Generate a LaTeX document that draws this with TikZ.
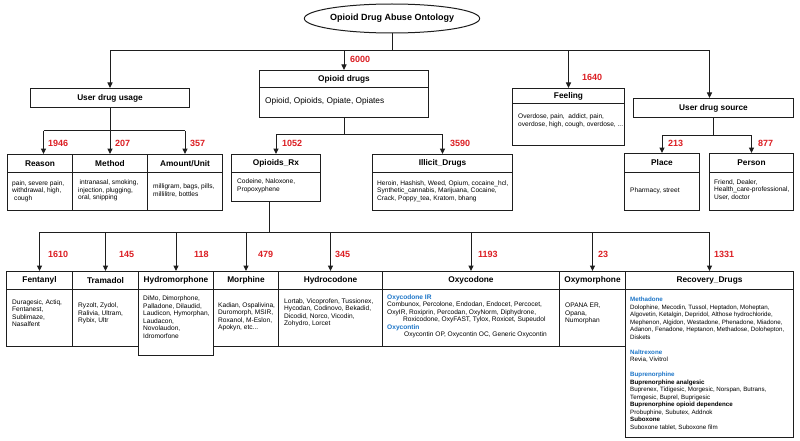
\documentclass[tikz,border=0pt]{standalone}
\usepackage{fontspec}
\setmainfont{Liberation Sans}
\usetikzlibrary{arrows.meta,shapes.geometric}
\definecolor{numred}{RGB}{220,30,35}
\definecolor{subblue}{RGB}{28,117,200}
\definecolor{ln}{RGB}{30,30,30}
\newcommand{\smtxt}{\fontsize{6.6}{7.5}\selectfont}
\newcommand{\hcell}[6]{\node[cell, hdr, minimum width={#4-#2}, minimum height={#5-#3}] (#1) at (#2,#3) {#6};}
\newcommand{\bcell}[5]{\node[cell, minimum width={#4-#2}, minimum height={#5-#3}] (#1) at (#2,#3) {};}
\begin{document}
\begin{tikzpicture}[x=1pt,y=-1pt,
  cell/.style={draw=ln, line width=1pt, inner sep=0pt, anchor=north west},
  hdr/.style={font=\fontsize{8.3}{10}\selectfont\bfseries},
  txt/.style={anchor=west, align=left, inner sep=0pt, font=\smtxt},
  num/.style={anchor=west, inner sep=0pt, text=numred, font=\fontsize{9}{10}\selectfont\bfseries},
  conn/.style={draw=ln, line width=1pt},
  arr/.style={conn, -{Triangle[length=5.5pt,width=5pt]}}]
\fill[white] (0,0) rectangle (800,441);
\useasboundingbox (0,0) rectangle (800,441);

% title
\node[draw=ln, line width=1pt, ellipse, minimum width=155pt, minimum height=29pt, inner sep=0pt,
  font=\fontsize{9}{11}\selectfont\bfseries] (title) at (392,18.5) {Opioid Drug Abuse Ontology};

% top level
\hcell{udu}{30}{88}{189}{107}{User drug usage}
\hcell{odH}{259}{70}{428}{87}{Opioid drugs}
\bcell{odB}{259}{87}{428}{117}
\node[anchor=west, inner sep=0pt, font=\fontsize{8.3}{10}\selectfont] (odT) at (265,101) {Opioid, Opioids, Opiate, Opiates};
\hcell{feH}{512}{88}{624}{103}{Feeling}
\bcell{feB}{512}{103}{624}{145}
\node[txt] (feT) at (518,121) {Overdose, pain,\ \ addict, pain,\\overdose, high, cough, overdose, ...};
\hcell{uds}{633}{98}{793}{117}{User drug source}

% second level
\hcell{reaH}{7}{154}{72}{172}{Reason}
\bcell{reaB}{7}{172}{72}{210}
\hcell{metH}{72}{154}{147}{172}{Method}
\bcell{metB}{72}{172}{147}{210}
\hcell{amtH}{147}{154}{222}{172}{Amount/Unit}
\bcell{amtB}{147}{172}{222}{210}
\hcell{rxH}{231}{154}{320}{172}{Opioids\_Rx}
\bcell{rxB}{231}{172}{320}{201}
\hcell{ilH}{372}{154}{512}{172}{Illicit\_Drugs}
\bcell{ilB}{372}{172}{512}{210}
\hcell{plH}{624}{153}{699}{172}{Place}
\bcell{plB}{624}{172}{699}{210}
\hcell{peH}{709}{153}{793}{172}{Person}
\bcell{peB}{709}{172}{793}{210}

\node[txt] (reaT) at (12,191) {pain, severe pain,\\withdrawal, high,\\\hspace*{2pt}cough};
\node[txt] (metT) at (78,190.5) {\hspace*{1.5pt}intranasal, smoking,\\injection, plugging,\\oral, snipping};
\node[txt] (amtT) at (153,190.5) {milligram, bags, pills,\\millilitre, bottles};
\node[txt] (rxT) at (237,186) {Codeine, Naloxone,\\Propoxyphene};
\node[txt] (ilT) at (377,191) {Heroin, Hashish, Weed, Opium, cocaine\_hcl,\\Synthetic\_cannabis, Marijuana, Cocaine,\\Crack, Poppy\_tea, Kratom, bhang};
\node[txt] (plT) at (630,191) {Pharmacy, street};
\node[txt] (peT) at (714,190) {Friend, Dealer,\\Health\_care-professional,\\User, doctor};

% third level
\hcell{fenH}{6}{271}{72}{289}{Fentanyl}
\bcell{fenB}{6}{289}{72}{346}
\hcell{traH}{72}{271}{138}{289}{Tramadol}
\bcell{traB}{72}{289}{138}{346}
\hcell{hydH}{138}{271}{213}{289}{Hydromorphone}
\bcell{hydB}{138}{289}{213}{355}
\hcell{morH}{213}{271}{278}{289}{Morphine}
\bcell{morB}{213}{289}{278}{346}
\hcell{hcoH}{278}{271}{382}{289}{Hydrocodone}
\bcell{hcoB}{278}{289}{382}{346}
\hcell{oxyH}{382}{271}{559}{289}{Oxycodone}
\bcell{oxyB}{382}{289}{559}{346}
\hcell{oxmH}{559}{271}{625}{289}{Oxymorphone}
\bcell{oxmB}{559}{289}{625}{346}
\hcell{recH}{625}{271}{793}{289}{Recovery\_Drugs}
\bcell{recB}{625}{289}{793}{437}

\node[txt] (fenT) at (12,313) {Duragesic, Actiq,\\Fentanest,\\Sublimaze,\\Nasalfent};
\node[txt] (traT) at (78,313.5) {Ryzolt, Zydol,\\Ralivia, Ultram,\\Rybix, Ultr};
\node[txt] (hydT) at (143,317) {DiMo, Dimorphone,\\Palladone, Dilaudid,\\Laudicon, Hymorphan,\\Laudacon,\\Novolaudon,\\Idromorfone};
\node[txt] (morT) at (218,317) {Kadian, Ospalivina,\\Duromorph, MSIR,\\Roxanol, M-Eslon,\\Apokyn, etc...};
\node[txt] (hcoT) at (284,313) {Lortab, Vicoprofen, Tussionex,\\Hycodan, Codinovo, Bekadid,\\Dicodid, Norco, Vicodin,\\Zohydro, Lorcet};
\node[txt] (oxyT) at (387,316.5) {{\color{subblue}\bfseries Oxycodone IR}\\
Combunox, Percolone, Endodan, Endocet, Percocet,\\
OxyIR, Roxiprin, Percodan, OxyNorm, Diphydrone,\\
\hspace*{16pt}Roxicodone, OxyFAST, Tylox, Roxicet, Supeudol\\
{\color{subblue}\bfseries Oxycontin}\\
\hspace*{17pt}Oxycontin OP, Oxycontin OC, Generic Oxycontin};
\node[txt] (oxmT) at (565,313.5) {OPANA ER,\\Opana,\\Numorphan};
\node[txt, font=\fontsize{6.2}{7.5}\selectfont] (recT) at (630,363.5) {{\color{subblue}\bfseries Methadone}\\
Dolophine, Mecodin, Tussol, Heptadon, Moheptan,\\
Algovetin, Ketalgin, Depridol, Althose hydrochloride,\\
Mephenon, Algidon, Westadone, Phenadone, Miadone,\\
Adanon, Fenadone, Heptanon, Methadose, Dolohepton,\\
Diskets\\[7.5pt]
{\color{subblue}\bfseries Naltrexone}\\
Revia, Vivitrol\\[7.5pt]
{\color{subblue}\bfseries Buprenorphine}\\
{\bfseries Buprenorphine analgesic}\\
Buprenex, Tidigesic, Morgesic, Norspan, Butrans,\\
Temgesic, Buprel, Buprigesic\\
{\bfseries Buprenorphine opioid dependence}\\
Probuphine, Subutex, Addnok\\
{\bfseries Suboxone}\\
Suboxone tablet, Suboxone film};

% connectors: top
\coordinate (b1) at (392,51);
\coordinate (udsin) at ([xshift=-4pt]uds.north);
\draw[conn] (title.south) -- (b1);
\draw[conn] (b1 -| udu.north) -- (b1 -| udsin);
\draw[arr] (b1 -| udu.north) -- (udu.north);
\draw[arr] (b1 -| odH.north) -- (odH.north);
\draw[arr] (b1 -| feH.north) -- (feH.north);
\draw[arr] (b1 -| udsin) -- (udsin);

% user drug usage
\coordinate (b2) at (109,131);
\coordinate (reain) at ([xshift=3.5pt]reaH.north);
\draw[conn] (udu.south) -- (udu.south |- b2);
\draw[conn] (b2 -| reain) -- (b2 -| amtH.north);
\draw[arr] (b2 -| reain) -- (reain);
\draw[arr] (b2 -| metH.north) -- (metH.north);
\draw[arr] (b2 -| amtH.north) -- (amtH.north);

% opioid drugs
\coordinate (b3) at (343,135);
\draw[conn] (odB.south) -- (odB.south |- b3);
\draw[conn] (b3 -| rxH.north) -- (b3 -| ilH.north);
\draw[arr] (b3 -| rxH.north) -- (rxH.north);
\draw[arr] (b3 -| ilH.north) -- (ilH.north);

% user drug source
\coordinate (b4) at (713,136);
\draw[conn] (uds.south) -- (uds.south |- b4);
\draw[conn] (b4 -| plH.north) -- (b4 -| peH.north);
\draw[arr] (b4 -| plH.north) -- (plH.north);
\draw[arr] (b4 -| peH.north) -- (peH.north);

% opioids_rx
\coordinate (b5) at (269,232);
\draw[conn] (rxB.south -| b5) -- (b5);
\draw[conn] (b5 -| fenH.north) -- (b5 -| recH.north);
\foreach \n in {fenH,traH,hydH,morH,hcoH,oxyH,oxmH,recH}
  \draw[arr] (b5 -| \n.north) -- (\n.north);

% numbers
\node[num] (n6000) at (350,59) {6000};
\node[num] (n1640) at (582,77) {1640};
\node[num] (n1946) at (48,143) {1946};
\node[num] (n207) at (115,143) {207};
\node[num] (n357) at (190,143) {357};
\node[num] (n1052) at (282,143) {1052};
\node[num] (n3590) at (450,143) {3590};
\node[num] (n213) at (668,143) {213};
\node[num] (n877) at (758,143) {877};
\node[num] (n1610) at (48,254) {1610};
\node[num] (n145) at (119,254) {145};
\node[num] (n118) at (194,254) {118};
\node[num] (n479) at (258,254) {479};
\node[num] (n345) at (335,254) {345};
\node[num] (n1193) at (478,254) {1193};
\node[num] (n23) at (598,254) {23};
\node[num] (n1331) at (714,254) {1331};
\end{tikzpicture}
\end{document}
